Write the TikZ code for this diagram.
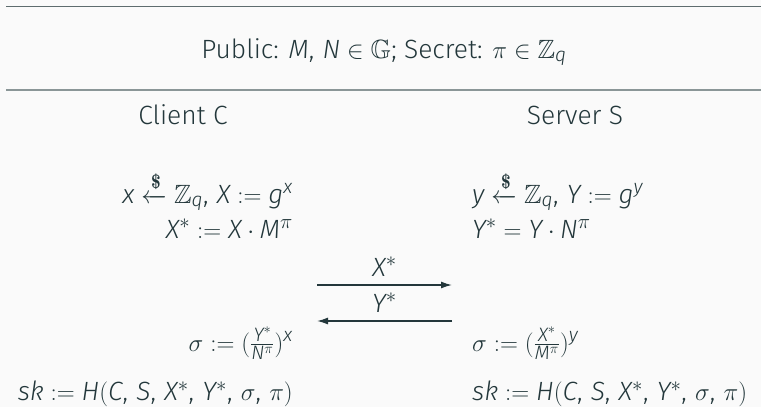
\documentclass[tikz,border=0pt]{standalone}
\usepackage{amsmath,amssymb}
\usepackage{fontspec}
\setmainfont{Fira Sans}[UprightFont=* Light, ItalicFont=* Light Italic]
\usepackage[italic]{mathastext}
\DeclareMathSizes{26.4}{26.4}{19.4}{14.5}
\usetikzlibrary{arrows.meta}
\definecolor{dk}{HTML}{23373B}
\definecolor{bgc}{HTML}{FAFAFA}
\definecolor{ruleA}{HTML}{5E6C6E}
\definecolor{ruleB}{HTML}{8A9697}
\newcommand{\rnd}{\xleftarrow{\text{\normalfont\fontfamily{lmr}\bfseries\selectfont\$}}}
\newcommand{\cm}{,\,}
\begin{document}
\begin{tikzpicture}[x=1pt,y=-1pt,
  txt/.style={inner sep=0pt, text=dk, font=\fontsize{26.4}{31}\selectfont},
  msg/.style={draw=dk, line width=1.4pt, -{Latex[length=11pt,width=7pt]}}]
\fill[bgc] (0,0) rectangle (761,407);
\useasboundingbox (0,0) rectangle (761,407);
\coordinate (r1a) at (6,6.5); \coordinate (r1b) at (761,6.5);
\coordinate (r2a) at (6,90); \coordinate (r2b) at (761,90);
\draw[ruleA, line width=1.4pt] (r1a) -- (r1b);
\draw[ruleB, line width=2pt] (r2a) -- (r2b);
\node[txt, anchor=base] (pub) at (384,58) {Public: $M\cm N\in\mathbb{G}$; Secret: $\pi\in\mathbb{Z}_q$};
\node[txt, anchor=base] (cl) at (183,124) {Client C};
\node[txt, anchor=base] (sv) at (575,124) {Server S};
\node[txt, anchor=base east] (l1) at (293,203) {$x\rnd\mathbb{Z}_q\cm X:=g^x$};
\node[txt, anchor=base east] (l2) at (293,238) {$X^*:=X\cdot M^\pi$};
\node[txt, anchor=base east] (l3) at (293,351) {$\sigma:=(\frac{Y^*}{N^\pi})^x$};
\node[txt, anchor=base east] (l4) at (293,400.5) {$sk:=H(C\cm S\cm X^*\cm Y^*\cm \sigma\cm \pi)$};
\node[txt, anchor=base west] (s1) at (472,203) {$y\rnd\mathbb{Z}_q\cm Y:=g^y$};
\node[txt, anchor=base west] (s2) at (472,238) {$Y^*=Y\cdot N^\pi$};
\node[txt, anchor=base west] (s3) at (472,351) {$\sigma:=(\frac{X^*}{M^\pi})^y$};
\node[txt, anchor=base west] (s4) at (472,400.5) {$sk:=H(C\cm S\cm X^*\cm Y^*\cm \sigma\cm \pi)$};
\coordinate (a1) at (317,285); \coordinate (b1) at (452,285);
\coordinate (a2) at (452,321); \coordinate (b2) at (317,321);
\draw[msg] (a1) -- (b1);
\draw[msg] (a2) -- (b2);
\node[txt, anchor=base] (m1) at (384.5,276) {$X^*$};
\node[txt, anchor=base] (m2) at (384.5,312) {$Y^*$};
\end{tikzpicture}
\end{document}
